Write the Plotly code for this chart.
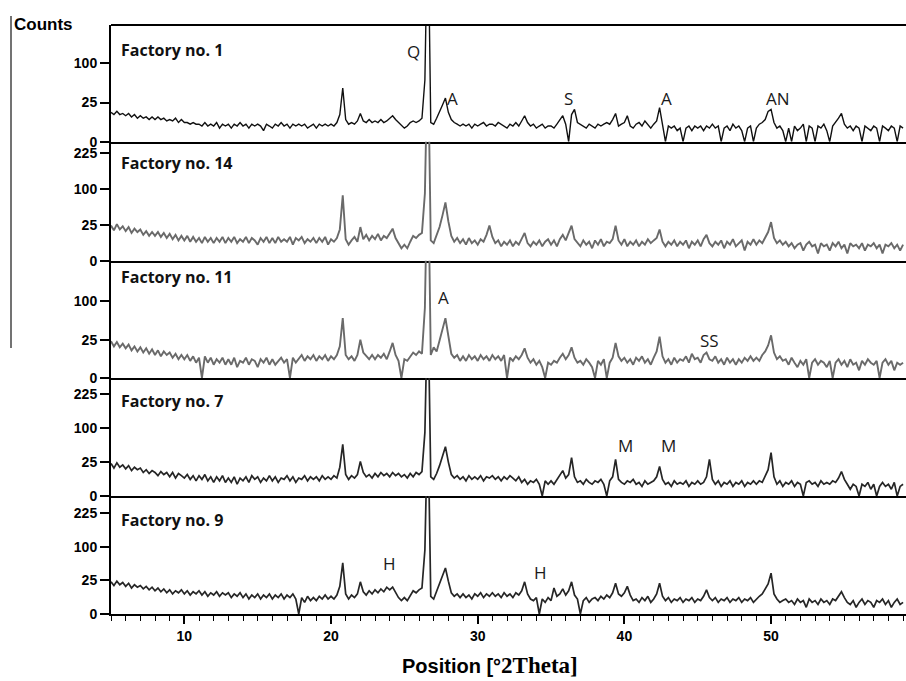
import numpy as np
import plotly.graph_objects as go
from plotly.subplots import make_subplots

# ------------------------------------------------------------------ data
theta_start = 5.0
theta_step = 0.2
theta_count = 271
two_theta = [round(theta_start + theta_step * i, 1) for i in range(theta_count)]

factory_names = ["Factory no. 1", "Factory no. 14", "Factory no. 11", "Factory no. 7", "Factory no. 9"]

count_ticks = [0, 25, 100, 225]
x_major_ticks = [10, 20, 30, 40, 50]

counts_factory_1 = [
    14, 12, 15, 12, 13,   # 5
    11, 13, 10, 12, 9,    # 6
    11, 9, 10, 8, 10,     # 7
    8, 10, 8, 9, 7,       # 8
    8, 7, 9, 6, 8,        # 9
    6, 6, 5, 6, 5,        # 10
    5, 4, 6, 4, 5,        # 11
    4, 6, 3, 5, 4,        # 12
    5, 3, 5, 4, 6,        # 13
    4, 5, 3, 5, 4,        # 14
    5, 4, 2, 5, 4,        # 15
    3, 5, 4, 6, 4,        # 16
    5, 3, 5, 4, 5,        # 17
    4, 5, 3, 4, 5,        # 18
    3, 5, 4, 5, 4,        # 19
    5, 4, 6, 12, 47,      # 20
    8, 5, 6, 5, 7,        # 21
    13, 7, 6, 8, 6,       # 22
    7, 6, 8, 6, 7,        # 23
    9, 11, 8, 6, 4,       # 24
    3, 4, 6, 7, 6,        # 25
    7, 9, 62, 900, 6,     # 26
    5, 9, 14, 22, 31,     # 27
    14, 8, 6, 5, 4,       # 28
    5, 4, 5, 3, 5,        # 29
    4, 5, 6, 4, 5,        # 30
    5, 4, 6, 5, 4,        # 31
    3, 5, 4, 6, 4,        # 32
    7, 11, 6, 4, 5,       # 33
    3, 4, 5, 3, 4,        # 34
    4, 3, 5, 8, 11,       # 35
    5, 0, 12, 17, 6,      # 36
    5, 4, 3, 5, 4,        # 37
    3, 5, 4, 5, 6,        # 38
    5, 8, 13, 4, 5,       # 39
    6, 11, 4, 3, 5,       # 40
    6, 4, 7, 5, 3,        # 41
    5, 7, 19, 4, 0,       # 42
    4, 3, 4, 2, 3,        # 43
    0, 3, 4, 2, 4,        # 44
    3, 4, 2, 4, 3,        # 45
    5, 3, 4, 0, 3,        # 46
    4, 2, 5, 3, 4,        # 47
    2, 0, 3, 4, 0,        # 48
    3, 5, 6, 8, 15,       # 49
    17, 6, 3, 4, 2,       # 50
    0, 3, 0, 4, 2,        # 51
    3, 5, 0, 4, 3,        # 52
    0, 4, 3, 5, 2,        # 53
    0, 4, 6, 9, 13,       # 54
    5, 3, 4, 2, 4,        # 55
    3, 0, 4, 3, 2,        # 56
    4, 3, 0, 4, 3,        # 57
    2, 4, 3, 0, 4,        # 58
    3,                    # 59
]

counts_factory_14 = [
    24, 18, 26, 19, 23,   # 5
    17, 22, 15, 20, 16,   # 6
    19, 13, 17, 12, 16,   # 7
    12, 16, 11, 15, 10,   # 8
    14, 9, 13, 8, 12,     # 9
    8, 12, 7, 11, 7,      # 10
    10, 6, 11, 7, 10,     # 11
    6, 10, 7, 11, 6,      # 12
    10, 7, 11, 6, 9,      # 13
    7, 11, 6, 10, 8,      # 14
    5, 10, 7, 11, 6,      # 15
    10, 6, 11, 7, 9,      # 16
    7, 11, 5, 10, 8,      # 17
    11, 6, 9, 7, 10,      # 18
    6, 10, 7, 11, 5,      # 19
    9, 7, 10, 19, 83,     # 20
    9, 5, 8, 11, 7,       # 21
    22, 9, 13, 8, 12,     # 22
    9, 14, 8, 12, 10,     # 23
    14, 20, 10, 6, 3,     # 24
    5, 3, 7, 12, 10,      # 25
    13, 15, 88, 900, 8,   # 26
    6, 12, 22, 40, 66,    # 27
    30, 12, 7, 10, 6,     # 28
    9, 5, 10, 6, 8,       # 29
    5, 9, 7, 13, 24,      # 30
    11, 6, 8, 4, 7,       # 31
    5, 8, 4, 7, 5,        # 32
    10, 15, 6, 4, 7,      # 33
    5, 8, 4, 7, 9,        # 34
    5, 8, 4, 9, 13,       # 35
    8, 15, 24, 9, 6,      # 36
    4, 8, 5, 7, 3,        # 37
    8, 5, 9, 4, 7,        # 38
    6, 9, 24, 8, 5,       # 39
    9, 4, 7, 5, 8,        # 40
    4, 7, 5, 9, 6,        # 41
    8, 10, 19, 7, 4,      # 42
    7, 5, 8, 4, 7,        # 43
    5, 8, 3, 7, 5,        # 44
    8, 4, 9, 13, 6,       # 45
    4, 7, 5, 8, 3,        # 46
    7, 5, 9, 4, 6,        # 47
    8, 2, 7, 5, 9,        # 48
    5, 8, 6, 10, 16,      # 49
    29, 10, 6, 8, 5,      # 50
    7, 4, 6, 3, 5,        # 51
    6, 2, 5, 7, 4,        # 52
    5, 1, 6, 4, 5,        # 53
    2, 6, 4, 7, 3,        # 54
    5, 1, 6, 4, 5,        # 55
    3, 6, 2, 5, 4,        # 56
    6, 3, 5, 1, 5,        # 57
    4, 6, 3, 5, 2,        # 58
    5,                    # 59
]

counts_factory_11 = [
    23, 17, 22, 16, 20,   # 5
    15, 19, 13, 17, 12,   # 6
    16, 11, 15, 10, 14,   # 7
    9, 13, 8, 12, 9,      # 8
    11, 7, 10, 6, 9,      # 9
    6, 9, 5, 8, 4,        # 10
    7, 0, 8, 4, 7,        # 11
    3, 6, 4, 7, 3,        # 12
    6, 3, 7, 2, 5,        # 13
    4, 7, 3, 6, 5,        # 14
    2, 6, 4, 7, 3,        # 15
    6, 3, 5, 7, 4,        # 16
    6, 0, 7, 4, 6,        # 17
    9, 5, 8, 6, 9,        # 18
    5, 8, 6, 9, 5,        # 19
    8, 6, 9, 17, 61,      # 20
    9, 6, 8, 5, 9,        # 21
    25, 11, 8, 6, 9,      # 22
    6, 9, 7, 10, 6,       # 23
    12, 21, 9, 5, 0,      # 24
    6, 5, 8, 11, 9,       # 25
    12, 10, 84, 900, 9,   # 26
    16, 12, 24, 42, 61,   # 27
    30, 10, 7, 9, 5,      # 28
    8, 5, 9, 6, 8,        # 29
    5, 9, 6, 8, 5,        # 30
    9, 6, 8, 5, 9,        # 31
    0, 7, 5, 8, 6,        # 32
    9, 15, 7, 4, 6,       # 33
    3, 5, 2, 0, 4,        # 34
    3, 5, 4, 7, 10,       # 35
    6, 9, 16, 7, 4,       # 36
    5, 3, 6, 4, 2,        # 37
    0, 5, 3, 6, 0,        # 38
    4, 7, 21, 8, 5,       # 39
    7, 4, 6, 3, 7,        # 40
    5, 8, 4, 6, 3,        # 41
    7, 12, 29, 8, 4,      # 42
    6, 3, 7, 4, 6,        # 43
    5, 8, 4, 10, 6,       # 44
    7, 4, 9, 11, 6,       # 45
    5, 8, 4, 6, 3,        # 46
    7, 4, 6, 3, 6,        # 47
    4, 7, 5, 8, 5,        # 48
    7, 5, 9, 12, 18,      # 49
    31, 11, 6, 8, 5,      # 50
    6, 3, 7, 4, 2,        # 51
    5, 3, 6, 0, 4,        # 52
    6, 3, 5, 4, 2,        # 53
    5, 0, 4, 6, 3,        # 54
    5, 2, 6, 3, 4,        # 55
    1, 5, 3, 6, 4,        # 56
    3, 5, 0, 4, 6,        # 57
    3, 5, 1, 4, 3,        # 58
    4,                    # 59
]

counts_factory_7 = [
    23, 17, 24, 18, 21,   # 5
    16, 20, 14, 18, 15,   # 6
    17, 12, 15, 11, 14,   # 7
    12, 9, 13, 10, 12,    # 8
    8, 12, 7, 11, 9,      # 9
    7, 10, 6, 9, 5,       # 10
    9, 6, 10, 5, 8,       # 11
    4, 8, 5, 9, 4,        # 12
    7, 4, 8, 3, 7,        # 13
    5, 8, 4, 9, 6,        # 14
    8, 4, 7, 5, 9,        # 15
    5, 8, 4, 7, 6,        # 16
    9, 5, 8, 4, 7,        # 17
    6, 9, 5, 8, 6,        # 18
    8, 5, 9, 6, 8,        # 19
    6, 9, 7, 18, 58,      # 20
    10, 6, 9, 7, 10,      # 21
    26, 12, 8, 10, 7,     # 22
    11, 8, 12, 9, 11,     # 23
    8, 12, 9, 11, 8,      # 24
    10, 7, 11, 8, 12,     # 25
    10, 13, 88, 900, 8,   # 26
    6, 11, 20, 36, 53,    # 27
    25, 10, 7, 9, 6,      # 28
    8, 5, 9, 6, 8,        # 29
    6, 9, 5, 8, 7,        # 30
    9, 6, 8, 5, 8,        # 31
    6, 9, 7, 5, 8,        # 32
    4, 6, 3, 5, 4,        # 33
    6, 3, 0, 5, 3,        # 34
    5, 3, 6, 9, 14,       # 35
    7, 10, 32, 8, 4,      # 36
    5, 3, 6, 4, 3,        # 37
    5, 4, 6, 3, 0,        # 38
    5, 8, 29, 6, 4,       # 39
    3, 5, 4, 6, 3,        # 40
    4, 2, 5, 3, 4,        # 41
    5, 8, 19, 6, 3,       # 42
    4, 2, 5, 3, 4,        # 43
    3, 5, 2, 4, 3,        # 44
    5, 3, 4, 8, 29,       # 45
    6, 3, 5, 2, 4,        # 46
    3, 5, 2, 4, 3,        # 47
    5, 2, 4, 3, 5,        # 48
    3, 5, 4, 8, 15,       # 49
    41, 8, 3, 5, 2,       # 50
    4, 3, 5, 2, 4,        # 51
    3, 0, 4, 5, 3,        # 52
    4, 2, 5, 3, 4,        # 53
    3, 5, 4, 7, 13,       # 54
    6, 3, 1, 3, 2,        # 55
    0, 3, 2, 4, 1,        # 56
    3, 0, 2, 4, 2,        # 57
    3, 1, 4, 0, 2,        # 58
    3,                    # 59
]

counts_factory_9 = [
    23, 18, 24, 19, 22,   # 5
    17, 21, 15, 19, 16,   # 6
    18, 14, 17, 13, 16,   # 7
    12, 15, 11, 14, 10,   # 8
    13, 9, 12, 10, 13,    # 9
    9, 12, 8, 11, 9,      # 10
    12, 8, 11, 7, 10,     # 11
    8, 11, 7, 10, 8,      # 12
    10, 6, 9, 7, 10,      # 13
    6, 9, 5, 8, 6,        # 14
    9, 5, 8, 6, 9,        # 15
    5, 8, 6, 9, 5,        # 16
    8, 6, 9, 5, 0,        # 17
    6, 3, 7, 4, 6,        # 18
    4, 7, 5, 8, 5,        # 19
    7, 5, 8, 17, 58,      # 20
    9, 5, 8, 6, 9,        # 21
    23, 11, 8, 12, 9,     # 22
    13, 10, 14, 11, 16,   # 23
    13, 16, 10, 6, 4,     # 24
    6, 4, 8, 12, 10,      # 25
    13, 15, 91, 900, 7,   # 26
    5, 12, 22, 35, 47,    # 27
    24, 10, 7, 9, 6,      # 28
    9, 6, 8, 5, 9,        # 29
    7, 10, 6, 9, 7,       # 30
    10, 7, 9, 6, 10,      # 31
    7, 9, 6, 10, 8,       # 32
    12, 23, 9, 5, 4,      # 33
    6, 0, 5, 3, 6,        # 34
    4, 15, 7, 9, 14,      # 35
    8, 12, 23, 8, 5,      # 36
    0, 4, 6, 3, 5,        # 37
    6, 4, 7, 5, 8,        # 38
    6, 10, 21, 9, 7,      # 39
    10, 17, 8, 4, 5,      # 40
    3, 6, 4, 7, 3,        # 41
    5, 9, 21, 7, 4,       # 42
    6, 3, 5, 4, 6,        # 43
    3, 5, 4, 6, 3,        # 44
    5, 4, 7, 13, 6,       # 45
    4, 6, 3, 5, 4,        # 46
    6, 3, 5, 4, 6,        # 47
    3, 5, 4, 6, 3,        # 48
    5, 7, 9, 14, 20,      # 49
    37, 9, 5, 3, 4,       # 50
    5, 3, 4, 2, 5,        # 51
    3, 4, 1, 5, 3,        # 52
    4, 2, 5, 3, 4,        # 53
    2, 5, 4, 7, 11,       # 54
    6, 3, 2, 4, 1,        # 55
    3, 5, 2, 4, 3,        # 56
    1, 4, 3, 5, 2,        # 57
    4, 1, 3, 5, 2,        # 58
    3,                    # 59
]

series_counts = [counts_factory_1, counts_factory_14, counts_factory_11,
                 counts_factory_7, counts_factory_9]
for s in series_counts:
    assert len(s) == theta_count, len(s)

# phase labels: (text, panel index)
phase_labels = [("Q", 0), ("A", 0), ("S", 0), ("A", 0), ("AN", 0),
                ("A", 2), ("SS", 2), ("M", 3), ("M", 3), ("H", 4), ("H", 4)]

# ------------------------------------------------------------------ layout / style
W, H = 906, 681
M_L, M_R, M_T, M_B = 111, 0, 25, 67
plot_h = H - M_T - M_B
plot_w = W - M_L - M_R

def py(p):  # pixel y -> paper y
    return (H - M_B - p) / plot_h

def px(p):  # pixel x -> paper x
    return (p - M_L) / plot_w

row_px = [116.7, 119.0, 117.3, 118.0, 118.0]
y_tops = [14.9, 16.6, 15.3, 17.4, 17.6]          # sqrt-scale ranges
tick_sets = [count_ticks[:3], count_ticks, count_ticks[:3], count_ticks, count_ticks]
line_colors = ["#111111", "#6a6a6a", "#6a6a6a", "#262626", "#262626"]
line_widths = [1.4, 1.9, 1.9, 1.7, 1.7]
label_py = [50, 163, 277, 401, 520]
x_range = [5.0, 59.2]
tick_font = dict(family="Liberation Sans Narrow, Arial Narrow, Liberation Sans", size=14,
                 color="black", weight="bold")

fig = make_subplots(rows=5, cols=1, shared_xaxes=True, vertical_spacing=0,
                    row_heights=row_px)

for i, counts in enumerate(series_counts):
    fig.add_trace(go.Scatter(
        x=two_theta, y=np.sqrt(np.array(counts, dtype=float)),
        mode="lines", line=dict(color=line_colors[i], width=line_widths[i]),
        hoverinfo="skip", showlegend=False), row=i + 1, col=1)
    fig.update_yaxes(
        range=[0, y_tops[i]], tickvals=[np.sqrt(v) for v in tick_sets[i]],
        ticktext=[str(v) for v in tick_sets[i]],
        showline=True, linecolor="black", linewidth=2,
        ticks="outside", ticklen=9, tickwidth=1.5, tickcolor="black",
        showgrid=False, zeroline=False, tickfont=tick_font,
        row=i + 1, col=1)
    last = (i == 4)
    fig.update_xaxes(
        range=x_range, showline=True, linecolor="black", linewidth=2,
        showgrid=False, zeroline=False,
        ticks="outside" if last else "", showticklabels=last,
        tickvals=x_major_ticks if last else None,
        ticklen=8, tickwidth=1.5, tickcolor="black",
        minor=dict(dtick=1, tick0=0, ticks="outside", ticklen=5, tickwidth=1,
                   tickcolor="black") if last else None,
        tickfont=tick_font,
        row=i + 1, col=1)

annotations = []
for i, name in enumerate(factory_names):
    annotations.append(dict(text=name, xref="paper", yref="paper", x=px(119), y=py(label_py[i]),
                            xanchor="left", yanchor="middle", showarrow=False,
                            font=dict(family="Open Sans", size=16, color="#111", weight="bold")))

phase_pos = [(25.6, 52), (28.3, 99), (36.2, 99), (42.9, 99), (50.5, 99),
             (27.7, 297), (45.8, 340), (40.1, 445), (43.0, 445), (24.0, 563), (34.25, 572)]
for (txt, _), (xd, yp) in zip(phase_labels, phase_pos):
    annotations.append(dict(text=txt, xref="x5", yref="paper", x=xd, y=py(yp),
                            xanchor="center", yanchor="middle", showarrow=False,
                            font=dict(family="Open Sans", size=17, color="#1a1a1a")))

annotations.append(dict(text="Counts", xref="paper", yref="paper", x=px(12), y=py(24),
                        xanchor="left", yanchor="middle", showarrow=False,
                        font=dict(family="Liberation Sans", size=17, color="black", weight="bold")))
annotations.append(dict(
    text="Position [°<span style='font-family:Liberation Serif;font-size:23px'>2Theta]</span>",
    xref="paper", yref="paper", x=px(490), y=py(665),
    xanchor="center", yanchor="middle", showarrow=False,
    font=dict(family="Liberation Sans", size=20, color="black", weight="bold")))

shapes = [
    dict(type="line", xref="paper", yref="paper", x0=0, x1=1, y0=1, y1=1,
         line=dict(color="black", width=2)),
    dict(type="line", xref="paper", yref="paper", x0=px(11), x1=px(11), y0=py(16), y1=py(348),
         line=dict(color="#444", width=1.5)),
]

fig.update_layout(
    width=W, height=H, margin=dict(l=M_L, r=M_R, t=M_T, b=M_B),
    paper_bgcolor="white", plot_bgcolor="white",
    annotations=annotations, shapes=shapes, showlegend=False,
)

fig.write_html("out.html")
